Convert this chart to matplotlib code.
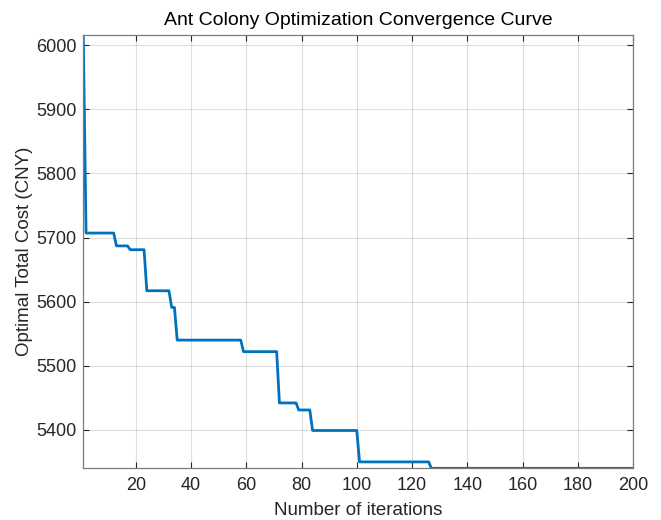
import matplotlib
matplotlib.use('Agg')
import matplotlib.pyplot as plt

# Puntos donde cambia el mejor coste (iteracion, coste)
iterations = [1, 2, 12, 13, 17, 18, 23, 24, 32, 33, 34, 35, 58, 59,
              71, 72, 78, 79, 83, 84, 100, 101, 126, 127, 200]
costs = [6016, 5707, 5707, 5687, 5687, 5681, 5681, 5617, 5617, 5591,
         5591, 5540, 5540, 5522, 5522, 5442, 5442, 5431, 5431, 5399,
         5399, 5350, 5350, 5340, 5340]

x_ticks = list(range(20, 201, 20))
y_ticks = list(range(5400, 6001, 100))

plt.rcParams['font.family'] = ['Liberation Sans', 'DejaVu Sans']

fig = plt.figure(figsize=(6.61, 5.2), dpi=100)
ax = fig.add_axes([0.126, 0.0994, 0.8317, 0.8333])

ax.plot(iterations, costs, color='#0072BD', linewidth=2.0)

ax.set_xlim(1, 200)
ax.set_ylim(min(costs), max(costs))
ax.set_xticks(x_ticks)
ax.set_yticks(y_ticks)

ax.grid(True, color='#262626', alpha=0.15, linewidth=0.8)
ax.tick_params(direction='in', top=True, right=True, length=4,
               labelsize=13, colors='#262626', width=0.8)
ax.tick_params(axis='x', pad=6)
ax.tick_params(axis='y', pad=5)
for s in ax.spines.values():
    s.set_color('#7a7a7a')
    s.set_linewidth(0.9)

ax.set_xlabel('Number of iterations', fontsize=13.5, color='#262626', labelpad=6)
ax.set_ylabel('Optimal Total Cost (CNY)', fontsize=13.5, color='#262626', labelpad=2)
ax.set_title('Ant Colony Optimization Convergence Curve', fontsize=14,
             color='#000000', pad=7)

fig.savefig('out.png', dpi=100)
